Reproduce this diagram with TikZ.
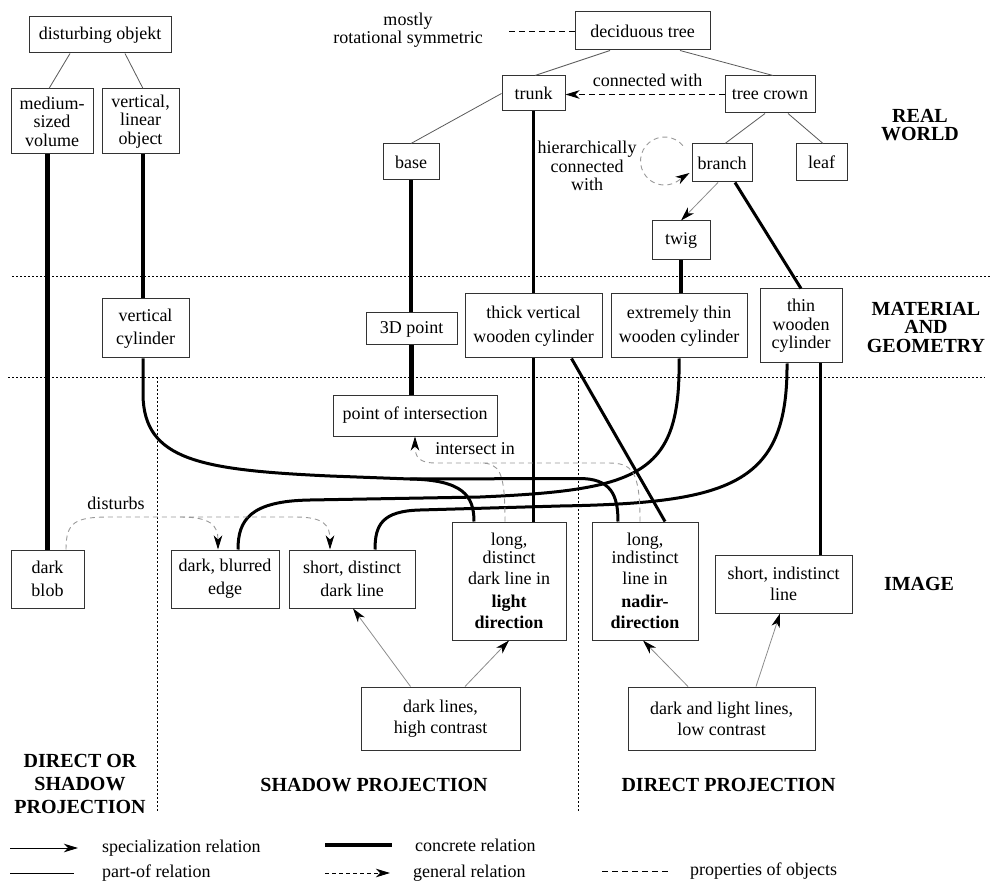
\documentclass[tikz,border=0pt]{standalone}
\usepackage{fontspec}
\setmainfont{Liberation Serif}
\usetikzlibrary{arrows.meta}
\definecolor{boxc}{gray}{0.2}
\definecolor{partc}{gray}{0.35}
\definecolor{specc}{gray}{0.55}
\definecolor{dashc}{gray}{0.6}
\begin{document}
\begin{tikzpicture}[x=1pt,y=-1pt,
  every node/.style={font=\fontsize{18}{18.5}\selectfont},
  box/.style={draw=boxc, line width=1pt, align=center, inner sep=0pt},
  lab/.style={align=center, inner sep=0pt},
  hdr/.style={align=center, inner sep=0pt, font=\fontsize{20}{18.5}\selectfont\bfseries},
  arrowtip/.style={-{Stealth[length=14pt,width=8.5pt,inset=4pt,color=black]}},
  partof/.style={draw=partc, line width=0.8pt},
  spec/.style={draw=specc, line width=0.8pt, arrowtip},
  concrete/.style={line width=3pt},
  heavy/.style={line width=4.3pt},
  prop/.style={dash pattern=on 6pt off 4pt, line width=0.9pt},
  gdash/.style={draw=dashc, dash pattern=on 5pt off 4pt, line width=0.9pt},
  sep/.style={line width=0.8pt, dash pattern=on 2pt off 2pt},
]
\useasboundingbox (0,0) rectangle (993,882);

% separators
\draw[sep] (12,276) -- (990,276);
\draw[sep] (8,377) -- (985,377);
\draw[sep] (157,377) -- (157,812);
\draw[sep] (578,377) -- (578,812);

% real world
\node[box, minimum width=142, minimum height=36] (dobj) at (100,35) {disturbing objekt};
\node[box, minimum width=82, minimum height=65] (medvol) at (52,121.5) {medium-\\sized\\volume};
\node[box, minimum width=77, minimum height=65] (vlin) at (140.5,121.5) {vertical,\\linear\\object};
\node[box, minimum width=56, minimum height=36] (base) at (411,162) {base};
\node[lab] (mostly) at (408,30) {mostly\\rotational symmetric};
\node[box, minimum width=135, minimum height=38] (dtree) at (642.5,31) {deciduous tree};
\node[box, minimum width=63, minimum height=35] (trunk) at (533.5,93.5) {trunk};
\node[box, minimum width=90, minimum height=37] (crown) at (770,94.5) {tree crown};
\node[box, minimum width=60, minimum height=38] (branch) at (722,163) {branch};
\node[box, minimum width=51, minimum height=37] (leaf) at (821.5,162.5) {leaf};
\node[box, minimum width=58, minimum height=39] (twig) at (681,240.5) {twig};
\node[hdr] (realw) at (920,125) {REAL\\WORLD};
\node[lab] (hier) at (587,166) {hierarchically\\connected\\with};
\node[lab] (conn) at (647.5,80) {connected with};

% material and geometry
\node[box, minimum width=87, minimum height=59] (vcyl) at (145.5,328.5) {vertical\\[4.5pt]cylinder};
\node[box, minimum width=91, minimum height=32] (p3d) at (411.5,329) {3D point};
\node[box, minimum width=137, minimum height=64] (thick) at (533.5,326) {thick vertical\\[5pt]wooden cylinder};
\node[box, minimum width=136, minimum height=64] (xthin) at (679,326) {extremely thin\\[5pt]wooden cylinder};
\node[box, minimum width=82, minimum height=74] (thin) at (801,326) {thin\\wooden\\cylinder};
\node[hdr] (matgeo) at (926,327) {MATERIAL\\AND\\GEOMETRY};
\node[box, minimum width=164, minimum height=41] (poi) at (415,415.5) {point of intersection};
\node[lab] (isect) at (475,449) {intersect in};

% image
\node[box, minimum width=73, minimum height=58] (dblob) at (47.5,579) {dark\\[4.5pt]blob};
\node[box, minimum width=108, minimum height=58] (dbe) at (225,579) {dark, blurred\\[4.5pt]edge};
\node[box, minimum width=126, minimum height=58] (sddl) at (352,579) {short, distinct\\[4.5pt]dark line};
\node[lab] (dist) at (116,503) {disturbs};
\node[box, minimum width=114, minimum height=118] (ldist) at (509,581) {long,\\[-1pt]distinct\\[3pt]dark line in\\[4pt]\textbf{light}\\[3pt]\textbf{direction}};
\node[box, minimum width=106, minimum height=118] (lind) at (645,581) {long,\\[-1pt]indistinct\\[3pt]line in\\[4pt]\textbf{nadir-}\\[3pt]\textbf{direction}};
\node[box, minimum width=137, minimum height=58] (sind) at (783.5,584) {short, indistinct\\[2.5pt]line};
\node[hdr] (img) at (919,584) {IMAGE};
\node[box, minimum width=159, minimum height=63] (dlhc) at (440.5,718.5) {dark lines,\\[2.5pt]high contrast};
\node[box, minimum width=187, minimum height=63] (dllc) at (721.5,718.5) {dark and light lines,\\[2.5pt]low contrast};
\node[hdr] (dosp) at (80,784) {DIRECT OR\\[4.5pt]SHADOW\\[4.5pt]PROJECTION};
\node[hdr] (sp) at (374,785) {SHADOW PROJECTION};
\node[hdr] (dp) at (728.5,785) {DIRECT PROJECTION};

% part-of relations
\draw[partof] ([xshift=-30]dobj.south) -- ([xshift=-3]medvol.north);
\draw[partof] ([xshift=25]dobj.south) -- ([xshift=2.5]vlin.north);
\draw[partof] ([xshift=-32.5]dtree.south) -- ([xshift=1.5]trunk.north);
\draw[partof] ([xshift=37.5]dtree.south) -- ([xshift=3]crown.north);
\draw[partof] (trunk.west) -- (base.north);
\draw[partof] ([xshift=-5]crown.south) -- ([xshift=3]branch.north);
\draw[partof] ([xshift=18]crown.south) -- ([xshift=1.5]leaf.north);

% specialization relations
\draw[spec] ([xshift=-4]branch.south) -- (twig.north);
\draw[spec] ([xshift=-30]dlhc.north) -- ([xshift=1]sddl.south);
\draw[spec] ([xshift=24.5]dlhc.north) -- (ldist.south);
\draw[spec] ([xshift=-33.5]dllc.north) -- ([xshift=-2]lind.south);
\draw[spec] ([xshift=34.5]dllc.north) -- ([xshift=-3.5]sind.south);

% concrete relations
\draw[heavy] (dblob.north) -- (dblob.north |- medvol.south);
\draw[heavy] ([xshift=2.5]vlin.south) -- ([xshift=-2.5]vcyl.north);
\draw[heavy] (base.south) -- (base.south |- p3d.north);
\draw[heavy] (p3d.south) -- (p3d.south |- poi.north);
\draw[concrete] (trunk.south) -- (thick.north);
\draw[concrete] (thick.south) -- (thick.south |- ldist.north);
\draw[concrete] ([xshift=38]thick.south) -- ([xshift=20]lind.north);
\draw[heavy] (twig.south) -- (twig.south |- xthin.north);
\draw[concrete] ([xshift=13]branch.south) -- (thin.north);
\draw[concrete] ([xshift=19]thin.south) -- ([xshift=19]thin.south |- sind.north);

% curved concrete relations
\draw[concrete] ([xshift=-2.5]vcyl.south) -- (143,395) .. controls (144,460) and (200,470) .. (330,476)
  -- (410,479) coordinate (fork) .. controls (462,480) and (474,495) .. ([xshift=-35]ldist.north);
\draw[concrete] (fork) -- (578,478.5) .. controls (611,478) and (618,495) .. ([xshift=-27]lind.north);
\draw[concrete] (xthin.south) .. controls (681,475) and (640,490) .. (480,497) -- (310,500)
  .. controls (250,501) and (238,520) .. ([xshift=13]dbe.north);
\draw[concrete] ([xshift=-14]thin.south) .. controls (788,485) and (730,503) .. (560,506) -- (420,510)
  .. controls (382,511) and (375,525) .. ([xshift=23]sddl.north);

% general relations
\draw[gdash] ([xshift=-4]ldist.north) .. controls (505,472) and (500,463) .. (480,463);
\draw[gdash, arrowtip] ([xshift=-5]lind.north) .. controls (640,470) and (632,463) .. (608,463) -- (436,463)
  .. controls (420,463) and (415,458) .. (poi.south);
\draw[gdash, arrowtip] ([xshift=18.5]dblob.north) .. controls (66,522) and (75,517) .. (110,517) -- (180,517) coordinate (dj)
  .. controls (210,517) and (218,525) .. ([xshift=-7]dbe.north);
\draw[gdash, arrowtip] (dj) -- (295,517) .. controls (324,517) and (330,525) .. ([xshift=-22]sddl.north);
\draw[gdash, arrowtip] ([shift={(-8.6,-17.4)}]branch.west) arc[start angle=-40, end angle=-315, radius=24]
  -- ([shift={(-2,10)}]branch.west);
\draw[prop, arrowtip] (crown.west) -- (crown.west -| trunk.east);
\draw[prop] (dtree.west) -- ++(-69,0);

% legend
\node[lab, anchor=west] (lg1) at (102,848) {specialization relation};
\node[lab, anchor=west] (lg2) at (102,873) {part-of relation};
\node[lab, anchor=west] (lg3) at (415,845) {concrete relation};
\node[lab, anchor=west] (lg4) at (413,873) {general relation};
\node[lab, anchor=west] (lg5) at (690,871) {properties of objects};
\draw[line width=0.9pt, arrowtip] ([xshift=-92]lg1.west) -- ([xshift=-24]lg1.west);
\draw[line width=0.9pt] ([xshift=-92]lg2.west) -- ([xshift=-28]lg2.west);
\draw[line width=4pt] ([xshift=-90]lg3.west) -- ([xshift=-23]lg3.west);
\draw[line width=0.9pt, dash pattern=on 4pt off 3pt, arrowtip] ([xshift=-88]lg4.west) -- ([xshift=-23]lg4.west);
\draw[prop] ([xshift=-88]lg5.west) -- ([xshift=-22]lg5.west);
\end{tikzpicture}
\end{document}
